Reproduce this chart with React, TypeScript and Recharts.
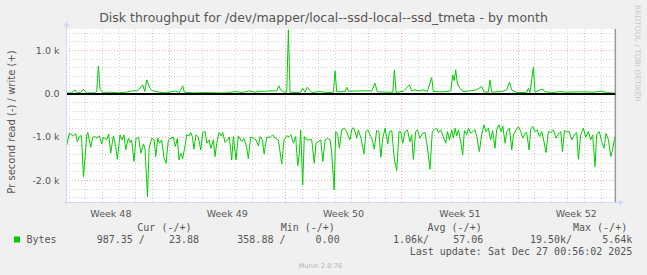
import { LineChart, Line, XAxis, YAxis, ReferenceLine, CartesianGrid } from "recharts";

// x = days since Mon Dec 1 2025 00:00 (start of week 49), y = bytes per second
const X_START = -6.2;
const X_END = 26.85;

const WEEK_LABELS = ["Week 48", "Week 49", "Week 50", "Week 51", "Week 52"];
const WEEK_LABEL_DAYS = [-3.5, 3.5, 10.5, 17.5, 24.5];
const WEEK_STARTS = [0, 7, 14, 21];
const Y_TICKS = [-2000, -1000, 0, 1000];

// write (+) samples: [day, bytes/s]
const WRITE_SAMPLES: [number, number][] = [
  [-6.16, 23], [-5.86, 23], [-5.66, 93], [-5.52, 23], [-5.31, 31], [-5.15, 108], [-4.99, 23], [-4.45, 23], [-4.35, 54], [-4.25, 648],
  [-4.15, 108], [-3.99, 23], [-3.55, 39], [-3.05, 23], [-2.55, 39], [-2.25, 69], [-1.91, 69], [-1.58, 208], [-1.46, 54], [-1.34, 324],
  [-1.18, 154], [-1.04, 77], [-0.74, 46], [-0.14, 23], [0.36, 69], [0.62, 31], [0.82, 185], [0.92, 39], [1.46, 23], [2.07, 31],
  [2.87, 23], [3.47, 23], [3.97, 54], [4.37, 31], [4.83, 69], [5.17, 39], [5.48, 54], [6.08, 69], [6.48, 69], [6.6, 185],
  [6.72, 93], [6.88, 46], [7.08, 39], [7.18, 1480], [7.28, 39], [7.68, 31], [7.92, 39], [8.04, 131], [8.18, 39], [8.32, 154],
  [8.58, 31], [9.09, 54], [9.49, 31], [9.89, 39], [9.99, 532], [10.09, 46], [10.59, 54], [10.69, 154], [10.79, 62], [11.49, 69],
  [12.19, 69], [12.39, 247], [12.53, 46], [13.1, 39], [13.46, 39], [13.56, 555], [13.66, 31], [14.1, 62], [14.46, 208], [14.6, 69],
  [14.8, 93], [15.06, 69], [15.3, 93], [15.54, 54], [15.8, 378], [15.9, 54], [16.5, 46], [16.95, 69], [17.07, 440], [17.15, 308],
  [17.25, 555], [17.35, 231], [17.47, 154], [17.67, 54], [18.11, 69], [18.51, 93], [18.81, 170], [18.95, 46], [19.21, 39], [19.31, 324],
  [19.41, 39], [20.02, 54], [20.32, 93], [20.48, 270], [20.62, 93], [20.92, 31], [21.52, 31], [21.62, 131], [21.72, 31], [21.92, 617],
  [22.02, 39], [22.48, 116], [22.62, 46], [23.12, 31], [23.53, 54], [23.93, 39], [24.53, 46], [25.13, 46], [25.53, 39], [26.03, 62],
  [26.33, 31], [26.8, 15],
];

// read (-) samples: [day, bytes/s], drawn below zero
const READ_SAMPLES: [number, number][] = [
  [-6.16, 1195], [-6.0, 910], [-5.76, 971], [-5.6, 925], [-5.52, 1103], [-5.4, 987], [-5.27, 964], [-5.15, 1912], [-5.05, 1449], [-4.95, 948],
  [-4.89, 894], [-4.71, 1234], [-4.59, 1002], [-4.45, 987], [-4.35, 1025], [-4.19, 971], [-4.05, 1157], [-3.95, 1002], [-3.75, 1064], [-3.63, 925],
  [-3.51, 1372], [-3.35, 971], [-3.21, 1218], [-3.11, 1511], [-2.95, 948], [-2.83, 1064], [-2.71, 948], [-2.61, 1295], [-2.45, 1025], [-2.35, 1126],
  [-2.25, 1064], [-2.11, 1565], [-1.99, 1033], [-1.83, 1002], [-1.7, 1372], [-1.54, 1157], [-1.44, 1295], [-1.3, 2375], [-1.2, 1257], [-1.04, 1025],
  [-0.9, 1064], [-0.8, 1449], [-0.68, 1025], [-0.58, 1141], [-0.44, 1064], [-0.3, 1488], [-0.18, 1604], [-0.04, 1064], [0.06, 1033], [0.26, 1002],
  [0.38, 1218], [0.5, 1033], [0.6, 1527], [0.7, 1372], [0.82, 1496], [0.96, 1203], [1.06, 948], [1.2, 971], [1.3, 894], [1.4, 987],
  [1.5, 1280], [1.62, 948], [1.76, 1002], [1.91, 1295], [2.03, 894], [2.17, 871], [2.27, 1141], [2.41, 1064], [2.51, 1257], [2.67, 1064],
  [2.77, 1449], [2.87, 1141], [3.01, 894], [3.13, 971], [3.23, 894], [3.37, 1126], [3.53, 1064], [3.63, 1002], [3.77, 1527], [3.87, 987],
  [4.03, 1527], [4.17, 971], [4.37, 1103], [4.51, 1033], [4.67, 1234], [4.77, 1496], [4.91, 1002], [5.07, 1018], [5.23, 1064], [5.38, 1203],
  [5.48, 987], [5.62, 1064], [5.72, 1388], [5.88, 1002], [6.08, 1002], [6.24, 948], [6.38, 1025], [6.58, 1064], [6.78, 1619], [6.92, 1064],
  [7.08, 971], [7.24, 987], [7.34, 948], [7.48, 1141], [7.62, 987], [7.74, 1665], [7.84, 1372], [7.92, 833], [8.04, 2105], [8.14, 987],
  [8.28, 1064], [8.44, 1064], [8.58, 1049], [8.74, 1604], [8.84, 1141], [8.99, 1103], [9.13, 1064], [9.25, 1565], [9.39, 1064], [9.53, 1025],
  [9.69, 1064], [9.79, 1372], [9.93, 2220], [10.03, 871], [10.15, 948], [10.25, 1257], [10.39, 833], [10.55, 794], [10.69, 871], [10.79, 987],
  [10.89, 1064], [10.99, 833], [11.09, 779], [11.19, 871], [11.29, 1025], [11.39, 833], [11.55, 1025], [11.73, 1388], [11.85, 871], [11.95, 833],
  [12.09, 948], [12.23, 1064], [12.35, 1280], [12.49, 848], [12.63, 871], [12.74, 1465], [12.86, 1025], [13.0, 794], [13.16, 1157], [13.26, 871],
  [13.4, 848], [13.56, 1527], [13.7, 1773], [13.84, 871], [13.94, 871], [14.06, 1141], [14.2, 871], [14.34, 833], [14.5, 1103], [14.6, 948],
  [14.7, 1511], [14.84, 871], [14.94, 833], [15.1, 1025], [15.26, 910], [15.4, 894], [15.54, 1218], [15.7, 1742], [15.84, 871], [15.96, 833],
  [16.1, 794], [16.2, 894], [16.35, 833], [16.51, 1002], [16.65, 1141], [16.75, 871], [16.87, 1064], [17.01, 833], [17.11, 1025], [17.21, 794],
  [17.31, 971], [17.41, 833], [17.55, 1103], [17.67, 1411], [17.77, 848], [17.91, 948], [18.01, 794], [18.15, 910], [18.27, 871], [18.41, 833],
  [18.51, 987], [18.67, 1334], [18.81, 948], [18.95, 717], [19.07, 871], [19.21, 794], [19.35, 1064], [19.47, 848], [19.61, 1257], [19.71, 833],
  [19.85, 717], [19.97, 871], [20.08, 740], [20.22, 1141], [20.32, 871], [20.48, 794], [20.62, 1295], [20.72, 948], [20.88, 833], [21.02, 756],
  [21.16, 871], [21.28, 1025], [21.42, 910], [21.52, 894], [21.66, 1295], [21.76, 817], [21.88, 756], [22.02, 871], [22.16, 833], [22.28, 987],
  [22.42, 871], [22.56, 1103], [22.68, 1357], [22.82, 871], [22.97, 894], [23.13, 833], [23.29, 1025], [23.43, 925], [23.57, 871], [23.67, 1334],
  [23.79, 848], [23.93, 871], [24.07, 871], [24.23, 1064], [24.37, 948], [24.53, 894], [24.63, 1511], [24.77, 948], [24.93, 794], [25.07, 1002],
  [25.23, 871], [25.37, 1064], [25.49, 948], [25.63, 1681], [25.73, 948], [25.89, 871], [26.03, 1103], [26.17, 1257], [26.29, 910], [26.44, 1064],
  [26.58, 1449], [26.7, 1257], [26.83, 987],
];

// legend stats, read/write
const LEGEND_HEADERS = ["Cur (-/+)", "Min (-/+)", "Avg (-/+)", "Max (-/+)"];
const LEGEND_VALUES = ["987.35 /    23.88", "358.88 /     0.00", "1.06k/    57.06", "19.50k/     5.64k"];
const LAST_UPDATE = "Last update: Sat Dec 27 00:56:02 2025";

const GREEN = "#00CC00";
const TEXT = "#555555";
const SANS = "'DejaVu Sans', sans-serif";
const MONO = "'DejaVu Sans Mono', monospace";

// grid: one dotted line per day, one red line per week, every 200 B/s
const dayGrid = Array.from({ length: 33 }, (_, i) => i - 6).filter((d) => !WEEK_STARTS.includes(d));
const minorY = Array.from({ length: 20 }, (_, i) => -2400 + i * 200).filter((v) => v % 1000 !== 0);

const fmtY = (v: number) => (v === 0 ? "0.0" : `${(v / 1000).toFixed(1)} k`);

export default function App() {
  const writeData = WRITE_SAMPLES.map(([day, v]) => ({ day, value: v }));
  const readData = READ_SAMPLES.map(([day, v]) => ({ day, value: -v }));

  const headerX = [137.3, 280.7, 427.5, 573];
  const valueX = [96.7, 237.3, 393, 530];

  return (
    <div
      style={{
        position: "absolute",
        left: 0,
        top: 0,
        width: 647,
        height: 275,
        background: "#F0F0F0",
        overflow: "hidden",
      }}
    >
      <LineChart
        width={647}
        height={275}
        margin={{ top: 29, right: 31.7, bottom: 53, left: 0 }}
        style={{ position: "absolute", left: 0, top: 0 }}
      >
        <CartesianGrid horizontal={false} vertical={false} fill="#FFFFFF" stroke="none" />
        <XAxis
          type="number"
          dataKey="day"
          domain={[X_START, X_END]}
          allowDataOverflow
          ticks={WEEK_LABEL_DAYS}
          tickFormatter={(d: number) => WEEK_LABELS[WEEK_LABEL_DAYS.indexOf(d)] ?? ""}
          tick={{ fill: TEXT, fontSize: 9.5, fontFamily: SANS }}
          tickLine={false}
          axisLine={false}
          tickSize={0}
          tickMargin={8}
          interval={0}
          height={20}
        />
        <YAxis
          type="number"
          domain={[-2500, 1500]}
          allowDataOverflow
          ticks={Y_TICKS}
          tickFormatter={fmtY}
          tick={{ fill: TEXT, fontSize: 9.5, fontFamily: SANS }}
          tickLine={false}
          axisLine={false}
          tickSize={0}
          tickMargin={6.5}
          interval={0}
          width={66}
        />
        {minorY.map((v) => (
          <ReferenceLine key={`hy${v}`} y={v} stroke="#D2D2D2" strokeDasharray="1 2" shapeRendering="crispEdges" />
        ))}
        {dayGrid.map((d) => (
          <ReferenceLine key={`vx${d}`} x={d} stroke="#D2D2D2" strokeDasharray="1 2" shapeRendering="crispEdges" />
        ))}
        {Y_TICKS.filter((v) => v !== 0).map((v) => (
          <ReferenceLine key={`my${v}`} y={v} stroke="#F2A8A8" strokeDasharray="1 2" shapeRendering="crispEdges" />
        ))}
        {WEEK_STARTS.map((d) => (
          <ReferenceLine key={`mx${d}`} x={d} stroke="#F2A8A8" strokeDasharray="1 2" shapeRendering="crispEdges" />
        ))}
        <ReferenceLine x={X_END} stroke="#999999" strokeWidth={1.5} />
        <Line
          data={readData}
          dataKey="value"
          type="linear"
          stroke={GREEN}
          strokeWidth={1}
          dot={false}
          isAnimationActive={false}
        />
        <Line
          data={writeData}
          dataKey="value"
          type="linear"
          stroke={GREEN}
          strokeWidth={1}
          dot={false}
          isAnimationActive={false}
        />
        <ReferenceLine y={0} stroke="#000000" strokeWidth={2} />
      </LineChart>

      <svg
        width={647}
        height={275}
        style={{ position: "absolute", left: 0, top: 0, pointerEvents: "none" }}
      >
        {/* axes with arrow heads */}
        <line x1={63} y1={202.5} x2={620} y2={202.5} stroke="#CFD6F8" strokeWidth={1} />
        <polygon points="619,199.5 624,202.5 619,205.5" fill="#CFD6F8" />
        <line x1={66.5} y1={205} x2={66.5} y2={25} stroke="#CFD6F8" strokeWidth={1} />
        <polygon points="63.5,26.5 66.5,21.5 69.5,26.5" fill="#CFD6F8" />

        <text x={323.5} y={22} textAnchor="middle" fontFamily={SANS} fontSize={12.5} fill={TEXT}>
          Disk throughput for /dev/mapper/local--ssd-local--ssd_tmeta - by month
        </text>
        <text
          x={15}
          y={122}
          transform="rotate(-90 15 122)"
          textAnchor="middle"
          fontFamily={SANS}
          fontSize={10}
          fill={TEXT}
        >
          Pr second read (-) / write (+)
        </text>
        <text
          x={635}
          y={5}
          transform="rotate(90 635 5)"
          fontFamily={SANS}
          fontSize={7.5}
          fill="#C8C8C8"
        >
          RRDTOOL / TOBI OETIKER
        </text>

        {LEGEND_HEADERS.map((h, i) => (
          <text key={h} x={headerX[i]} y={231} fontFamily={MONO} fontSize={10} fill={TEXT} style={{ whiteSpace: "pre" }}>
            {h}
          </text>
        ))}
        <rect x={14} y={236.5} width={6} height={6} fill={GREEN} />
        <text x={26.4} y={243} fontFamily={MONO} fontSize={10} fill={TEXT}>
          Bytes
        </text>
        {LEGEND_VALUES.map((v, i) => (
          <text key={v} x={valueX[i]} y={243} fontFamily={MONO} fontSize={10} fill={TEXT} style={{ whiteSpace: "pre" }}>
            {v}
          </text>
        ))}
        <text x={632.4} y={255} textAnchor="end" fontFamily={MONO} fontSize={10} fill={TEXT}>
          {LAST_UPDATE}
        </text>
        <text x={320.3} y={267.5} textAnchor="middle" fontFamily={SANS} fontSize={6.7} fill="#B0B0B0">
          Munin 2.0.76
        </text>
      </svg>
    </div>
  );
}
